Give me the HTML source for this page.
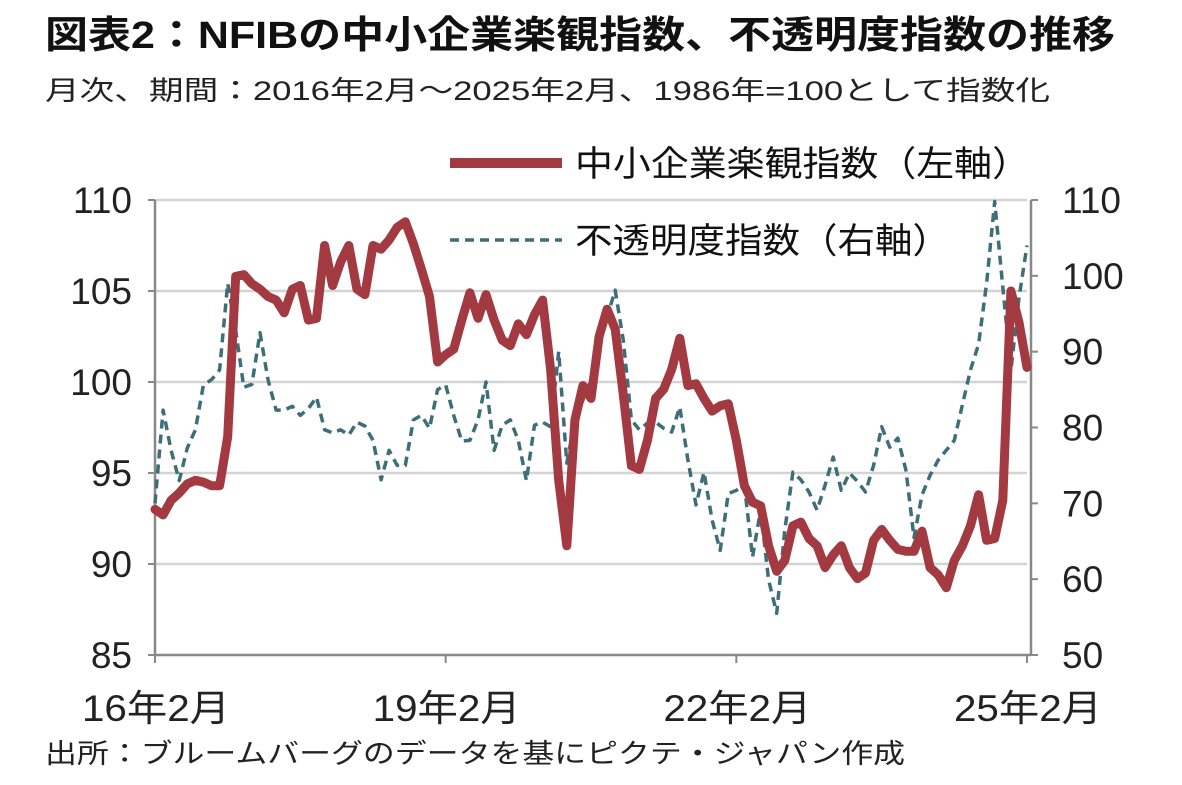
<!DOCTYPE html>
<html><head><meta charset="utf-8"><style>
html,body{margin:0;padding:0;background:#fff;}
svg{display:block;font-family:"Liberation Sans","Noto Sans CJK JP",sans-serif;}
</style></head><body>
<svg id="chart" width="1182" height="785" viewBox="0 0 1182 785" xmlns="http://www.w3.org/2000/svg">
<text x="45" y="48" font-size="38" font-weight="bold" fill="#111" textLength="1070" lengthAdjust="spacingAndGlyphs">図表2：NFIBの中小企業楽観指数、不透明度指数の推移</text>
<text x="45" y="100" font-size="27" fill="#222" textLength="1005" lengthAdjust="spacingAndGlyphs">月次、期間：2016年2月～2025年2月、1986年=100として指数化</text>
<text x="45" y="763" font-size="27" fill="#222" textLength="860" lengthAdjust="spacingAndGlyphs">出所：ブルームバーグのデータを基にピクテ・ジャパン作成</text>
<g id="grid"></g>
<g id="axes"></g>
<g id="series"></g>
<g>
<line x1="450" y1="163" x2="562" y2="163" stroke="#A33A41" stroke-width="10"/>
<text x="575" y="176" font-size="35" fill="#111" textLength="455" lengthAdjust="spacingAndGlyphs">中小企業楽観指数（左軸）</text>
<line x1="450" y1="240" x2="562" y2="240" stroke="#3E6E78" stroke-width="3.5" stroke-dasharray="9,6"/>
<text x="575" y="253" font-size="35" fill="#111" textLength="375" lengthAdjust="spacingAndGlyphs">不透明度指数（右軸）</text>
</g>
</svg>
<script>
const xLabels = ["16年2月","19年2月","22年2月","25年2月"];
const xLabelIdx = [0,36,72,108];
const leftTicks = [85,90,95,100,105,110];
const rightTicks = [50,60,70,80,90,100,110];
const optimism = [93.0,92.7,93.5,93.9,94.4,94.6,94.5,94.3,94.3,97.0,105.8,105.9,105.4,105.1,104.7,104.5,103.8,105.1,105.3,103.4,103.5,107.5,105.3,106.6,107.5,105.1,104.8,107.5,107.3,107.8,108.5,108.8,107.6,106.2,104.7,101.1,101.5,101.8,103.4,104.9,103.5,104.8,103.4,102.3,102.0,103.2,102.6,103.7,104.5,100.7,94.6,91.0,97.9,99.8,99.1,102.5,104.0,102.9,99.3,95.4,95.2,96.8,99.1,99.6,100.7,102.4,99.8,99.9,99.1,98.4,98.7,98.8,96.8,94.3,93.4,93.2,91.0,89.6,90.2,92.1,92.3,91.4,91.0,89.8,90.5,91.0,89.8,89.2,89.5,91.3,91.9,91.3,90.8,90.7,90.7,91.8,89.8,89.4,88.7,90.2,91.0,92.1,93.8,91.3,91.4,93.5,105.0,103.3,100.8];
const uncertainty = [70,82.3,77.0,73,77.3,79.7,85.6,86.3,87.6,99,92.8,85.3,85.7,92.5,86.3,82.3,82.3,82.8,81.6,82.5,84.0,79.7,79.3,79.7,79.0,80.7,80.2,78.3,73.1,77.0,75.0,75.0,81.0,81.6,79.9,85.0,85.6,81.6,78.2,78.3,81.0,86,77.0,80.3,81.0,78.3,73,80.3,80.7,80.1,90,75.3,81.0,83.6,86.3,90.9,94.6,98.1,91.5,81.0,79.7,80.6,80.7,79.9,79.4,82.7,75.7,69.8,74.1,67.8,63.8,71.3,71.7,72.4,62.9,69.1,59.9,55.5,66.5,74.1,73.1,71.5,69.1,72.4,76.1,71.7,74.0,72.9,71.5,75.0,80.1,77.4,78.6,74.4,65.5,71.1,73.7,75.7,77.0,78.3,83,87.6,91,99,109.8,98.5,87.5,97,104];

const NS="http://www.w3.org/2000/svg";
const X0=155,X1=1027,Y0=200,Y1=655;
const xS=i=>X0+(X1-X0)*i/108;
const yL=v=>Y1-(v-85)/25*(Y1-Y0);
const yR=v=>Y1-(v-50)/60*(Y1-Y0);
function mk(tag,parent,attrs){const e=document.createElementNS(NS,tag);for(const k in attrs)e.setAttribute(k,attrs[k]);parent.appendChild(e);return e;}
const grid=document.getElementById('grid'),axes=document.getElementById('axes'),series=document.getElementById('series');
leftTicks.forEach(v=>{
  if(v>85){const g=mk('line',grid,{x1:X0,x2:X1,y1:yL(v),y2:yL(v),stroke:'#d4d4d4','stroke-width':2.5});
  
  }
  const t=mk('text',axes,{x:132,y:yL(v)+13,'font-size':37,fill:'#222','text-anchor':'end'});
  t.textContent=v;
  
  
  const tk=mk('line',axes,{x1:X0-7,x2:X0,y1:yL(v),y2:yL(v),stroke:'#888','stroke-width':2});
  
  
});
rightTicks.forEach(v=>{
  const t=mk('text',axes,{x:1062,y:yR(v)+13,'font-size':37,fill:'#222'});
  t.textContent=v;
  
  
  const tk=mk('line',axes,{x1:X1+4,x2:X1+11,y1:yR(v),y2:yR(v),stroke:'#888','stroke-width':2});
  
  
});
let a=mk('line',axes,{x1:X0,x2:X0,y1:Y0,y2:Y1,stroke:'#888','stroke-width':2.5});


a=mk('line',axes,{x1:X1+4,x2:X1+4,y1:Y0,y2:Y1,stroke:'#888','stroke-width':2.5});


a=mk('line',axes,{x1:X0,x2:X1+4,y1:Y1,y2:Y1,stroke:'#888','stroke-width':2.5});


xLabels.forEach((l,k)=>{
  const x=xS(xLabelIdx[k]);
  const tk=mk('line',axes,{x1:x,x2:x,y1:Y1,y2:Y1+8,stroke:'#888','stroke-width':2});
  
  
  const t=mk('text',axes,{x:x-73,y:721,'font-size':37,fill:'#222',textLength:148,lengthAdjust:'spacingAndGlyphs'});
  t.textContent=l;
  
  
});
const pb=uncertainty.map((v,i)=>xS(i).toFixed(1)+','+yR(v).toFixed(1)).join(' ');
const lb=mk('polyline',series,{points:pb,fill:'none',stroke:'#3E6E78','stroke-width':3.5,'stroke-dasharray':'9,6','stroke-linejoin':'round'});


const pr=optimism.map((v,i)=>xS(i).toFixed(1)+','+yL(v).toFixed(1)).join(' ');
const lr=mk('polyline',series,{points:pr,fill:'none',stroke:'#A33A41','stroke-width':9,'stroke-linejoin':'round','stroke-linecap':'round'});


</script>
</body></html>
